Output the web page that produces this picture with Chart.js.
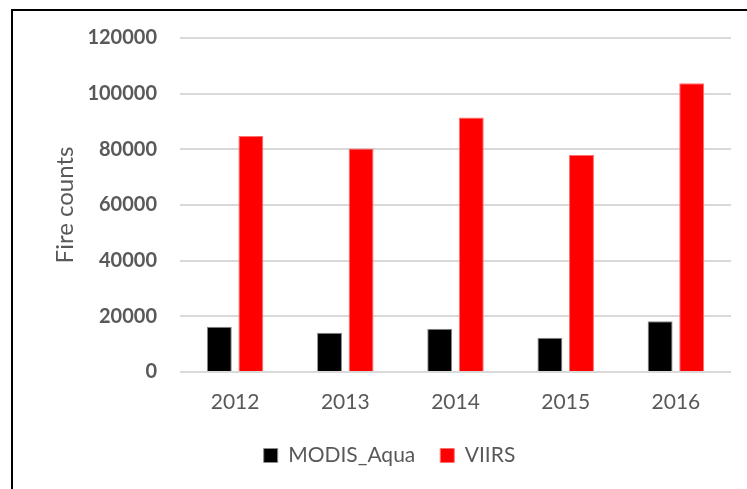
<!DOCTYPE html>
<html>
<head>
<meta charset="utf-8">
<script src="https://cdn.jsdelivr.net/npm/chart.js@4/dist/chart.umd.min.js"></script>
<style>
  html, body { margin: 0; padding: 0; background: #fff; }
  #wrap { position: relative; width: 747px; height: 489px; }
  #frame { position: absolute; left: 11px; top: 9px; right: -5px; bottom: -5px;
           border-top: 2px solid #000; border-left: 2px solid #000; pointer-events: none; }
</style>
</head>
<body>
<div id="wrap">
  <canvas id="fireChart"></canvas>
  <div id="frame"></div>
</div>
<script>
// --- Datos ---
const years = ['2012', '2013', '2014', '2015', '2016'];
const modisAqua = [16300, 14100, 15500, 12300, 18200];
const viirs = [84800, 80300, 91400, 78000, 103700];
const yTicks = [0, 20000, 40000, 60000, 80000, 100000, 120000];

const textGray = '#595959';

const ctx = document.getElementById('fireChart').getContext('2d');

const fireChart = new Chart(ctx, {
    type: 'bar',
    data: {
        labels: years,
        datasets: [
            {
                label: 'MODIS_Aqua',
                data: modisAqua,
                backgroundColor: '#000000',
                borderColor: '#8c8c8c',
                borderWidth: 1
            },
            {
                label: 'VIIRS',
                data: viirs,
                backgroundColor: '#ff0000',
                borderColor: '#ff7070',
                borderWidth: 1
            }
        ]
    },
    options: {
        responsive: true,
        maintainAspectRatio: false,
        animation: false,
        layout: { padding: { left: 48, right: 16, top: 38, bottom: 13 } },
        datasets: {
            bar: { categoryPercentage: 0.573, barPercentage: 0.79 }
        },
        scales: {
            x: {
                grid: { display: false, drawTicks: false },
                border: { display: false },
                ticks: {
                    color: textGray,
                    padding: 18,
                    font: { family: 'Lato', size: 21 }
                },
                afterFit: s => { s.height = 48; }
            },
            y: {
                min: 0,
                max: 120000,
                afterBuildTicks: s => { s.ticks = yTicks.map(v => ({ value: v })); },
                grid: { color: '#d9d9d9', lineWidth: 2, drawTicks: false },
                border: { display: false },
                ticks: {
                    color: textGray,
                    padding: 23,
                    callback: v => String(v),
                    font: { family: 'Lato', size: 20, weight: 'bold' }
                },
                title: {
                    display: true,
                    text: 'Fire counts',
                    color: textGray,
                    font: { family: 'Lato', size: 24 },
                    padding: { top: 3, bottom: 0 }
                },
                afterFit: s => { s.width = 132; }
            }
        },
        plugins: {
            legend: {
                position: 'bottom',
                labels: {
                    color: textGray,
                    boxWidth: 14,
                    boxHeight: 14,
                    padding: 25,
                    font: { family: 'Lato', size: 21 }
                }
            },
            tooltip: { enabled: false }
        }
    }
});
</script>
</body>
</html>
